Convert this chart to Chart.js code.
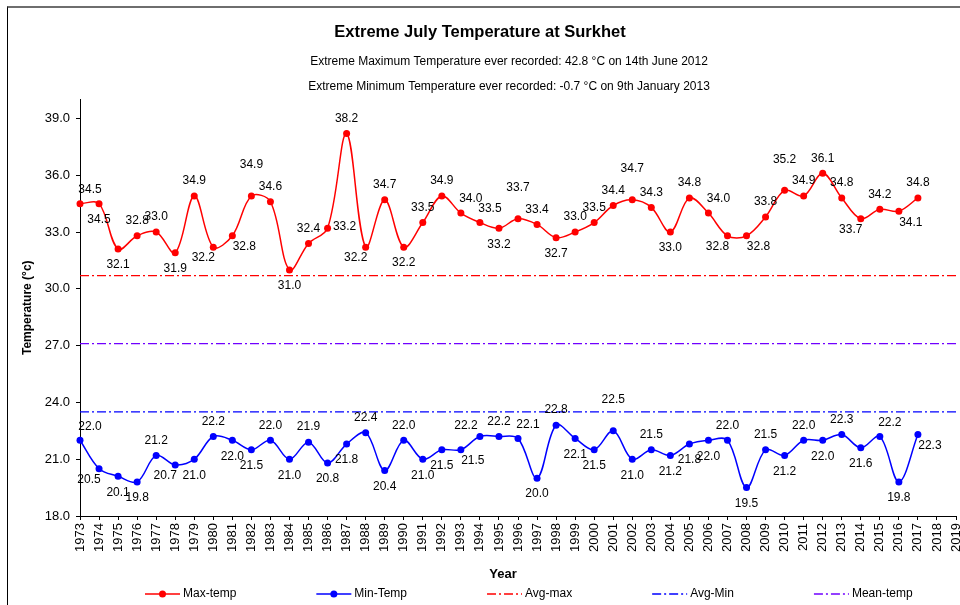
<!DOCTYPE html>
<html>
<head>
<meta charset="utf-8">
<title>Extreme July Temperature at Surkhet</title>
<script src="https://cdn.jsdelivr.net/npm/chart.js@4.4.1/dist/chart.umd.min.js"></script>
<style>
    html, body { margin: 0; padding: 0; background: #fff; }
    #wrap { position: relative; width: 960px; height: 605px; overflow: hidden; }
    #frame {
        position: absolute; left: 7px; top: 6px; right: -2px; bottom: -5px;
        border-left: 1px solid #000; border-top: 2px solid #6e6e6e;
        pointer-events: none;
    }
</style>
</head>
<body>
<div id="wrap">
    <canvas id="chart-temp" width="960" height="605"></canvas>
    <div id="frame"></div>
</div>
<script>
// Categories (x axis runs one step past the data, like the original)
const years = ['1973', '1974', '1975', '1976', '1977', '1978', '1979', '1980', '1981', '1982',
    '1983', '1984', '1985', '1986', '1987', '1988', '1989', '1990', '1991', '1992',
    '1993', '1994', '1995', '1996', '1997', '1998', '1999', '2000', '2001', '2002',
    '2003', '2004', '2005', '2006', '2007', '2008', '2009', '2010', '2011', '2012',
    '2013', '2014', '2015', '2016', '2017', '2018', '2019'];

// Extreme July maximum, 1973-2017
const maxTemp = [34.5, 34.5, 32.1, 32.8, 33.0, 31.9, 34.9, 32.2, 32.8, 34.9,
    34.6, 31.0, 32.4, 33.2, 38.2, 32.2, 34.7, 32.2, 33.5, 34.9,
    34.0, 33.5, 33.2, 33.7, 33.4, 32.7, 33.0, 33.5, 34.4, 34.7,
    34.3, 33.0, 34.8, 34.0, 32.8, 32.8, 33.8, 35.2, 34.9, 36.1,
    34.8, 33.7, 34.2, 34.1, 34.8];

// Extreme July minimum, 1973-2017
const minTemp = [22.0, 20.5, 20.1, 19.8, 21.2, 20.7, 21.0, 22.2, 22.0, 21.5,
    22.0, 21.0, 21.9, 20.8, 21.8, 22.4, 20.4, 22.0, 21.0, 21.5,
    21.5, 22.2, 22.2, 22.1, 20.0, 22.8, 22.1, 21.5, 22.5, 21.0,
    21.5, 21.2, 21.8, 22.0, 22.0, 19.5, 21.5, 21.2, 22.0, 22.0,
    22.3, 21.6, 22.2, 19.8, 22.3];

const avgMax = 30.7;
const avgMin = 23.5;
const meanTemp = 27.1;

const yTicks = [18, 21, 24, 27, 30, 33, 36, 39];

const subtitleLines = [
    'Extreme Maximum Temperature ever recorded: 42.8 °C on 14th June 2012',
    'Extreme Minimum Temperature ever recorded: -0.7 °C on 9th January 2013'
];

// where each value label sits relative to its point
const labelPosMax = 'ar b b a a b a bl br A a b a r a bl a b a a ar ar b A a b a a a A a b a ar bl br a A a a a bl a br a'.split(' ');
const labelPosMin = 'ar bl b b a bl b a b b a b a b b a b a b b br al a ar b a b b A b a b b b a b a b a b a b ar b br'.split(' ');
const labelOffsets = {
    a: [0, -15], A: [0, -31], b: [0, 16], r: [17, -2],
    ar: [10, -14], al: [-14, -11], br: [12, 11], bl: [-10, 11]
};

const FONT = "'Liberation Sans', Arial, sans-serif";
const DASH_DOT = [9, 3, 2, 3];

function refLine(value) {
    return [{ x: years[0], y: value }, { x: years[years.length - 1], y: value }];
}

// subtitle lines and the x axis title (both sit off the chart centre in the original)
const extraTexts = {
    id: 'extraTexts',
    afterDraw(chart) {
        const ctx = chart.ctx;
        ctx.save();
        ctx.fillStyle = '#000';
        ctx.textAlign = 'center';
        ctx.textBaseline = 'middle';
        ctx.font = '12px ' + FONT;
        subtitleLines.forEach((txt, i) => ctx.fillText(txt, chart.width / 2 + 29, 62 + i * 25));
        ctx.font = 'bold 13px ' + FONT;
        ctx.fillText('Year', 503, 574);
        ctx.restore();
    }
};

// value labels next to the points
const valueLabels = {
    id: 'valueLabels',
    afterDatasetsDraw(chart) {
        const ctx = chart.ctx;
        ctx.save();
        ctx.font = '12px ' + FONT;
        ctx.fillStyle = '#000';
        ctx.textAlign = 'center';
        ctx.textBaseline = 'middle';
        chart.data.datasets.forEach((ds, i) => {
            if (!ds.labelPos) return;
            chart.getDatasetMeta(i).data.forEach((pt, j) => {
                const off = labelOffsets[ds.labelPos[j]] || labelOffsets.a;
                ctx.fillText(ds.data[j].toFixed(1), pt.x + off[0], pt.y + off[1]);
            });
        });
        ctx.restore();
    }
};

// legend row along the bottom
const bottomLegend = {
    id: 'bottomLegend',
    afterDraw(chart) {
        const ctx = chart.ctx;
        const sample = 35, gapText = 3, gapItem = 80;
        const y = 594;
        ctx.save();
        ctx.font = '12px ' + FONT;
        ctx.textBaseline = 'middle';
        ctx.textAlign = 'left';
        let x = 145;
        chart.data.datasets.forEach(ds => {
            ctx.strokeStyle = ds.borderColor;
            ctx.lineWidth = ds.borderDash ? 1.3 : 1.5;
            ctx.setLineDash(ds.borderDash || []);
            ctx.beginPath();
            ctx.moveTo(x, y);
            ctx.lineTo(x + sample, y);
            ctx.stroke();
            ctx.setLineDash([]);
            if (ds.pointRadius) {
                ctx.fillStyle = ds.borderColor;
                ctx.beginPath();
                ctx.arc(x + sample / 2, y, 3.5, 0, Math.PI * 2);
                ctx.fill();
            }
            ctx.fillStyle = '#000';
            ctx.fillText(ds.label, x + sample + gapText, y);
            x += sample + gapText + ctx.measureText(ds.label).width + gapItem;
        });
        ctx.restore();
    }
};

Chart.defaults.font.family = FONT;
Chart.defaults.color = '#000';

new Chart(document.getElementById('chart-temp').getContext('2d'), {
    type: 'line',
    data: {
        labels: years,
        datasets: [
            {
                label: 'Max-temp',
                data: maxTemp,
                borderColor: '#ff0000',
                backgroundColor: '#ff0000',
                borderWidth: 1.5,
                pointRadius: 3.5,
                pointBorderWidth: 0,
                tension: 0.35,
                labelPos: labelPosMax
            },
            {
                label: 'Min-Temp',
                data: minTemp,
                borderColor: '#0000ff',
                backgroundColor: '#0000ff',
                borderWidth: 1.5,
                pointRadius: 3.5,
                pointBorderWidth: 0,
                tension: 0.35,
                labelPos: labelPosMin
            },
            {
                label: 'Avg-max',
                data: refLine(avgMax),
                borderColor: '#ff0000',
                borderWidth: 1.3,
                borderDash: DASH_DOT,
                pointRadius: 0
            },
            {
                label: 'Avg-Min',
                data: refLine(avgMin),
                borderColor: '#0000ff',
                borderWidth: 1.3,
                borderDash: DASH_DOT,
                pointRadius: 0
            },
            {
                label: 'Mean-temp',
                data: refLine(meanTemp),
                borderColor: '#7000ff',
                borderWidth: 1.3,
                borderDash: DASH_DOT,
                pointRadius: 0
            }
        ]
    },
    options: {
        responsive: false,
        animation: false,
        events: [],
        layout: { padding: { left: 0, right: 0, top: 0, bottom: 22 } },
        plugins: {
            legend: { display: false },
            tooltip: { enabled: false },
            title: {
                display: true,
                text: 'Extreme July Temperature at Surkhet',
                font: { size: 16.5, weight: 'bold' },
                padding: { top: 23, bottom: 56.7 }
            }
        },
        scales: {
            x: {
                type: 'category',
                offset: false,
                grid: { drawOnChartArea: false, tickLength: 4, color: '#000' },
                border: { color: '#000' },
                ticks: { autoSkip: false, minRotation: 90, maxRotation: 90, font: { size: 13 }, padding: 3 },
                afterFit(scale) {
                    scale.height = 67;
                    scale.paddingRight = 3;
                }
            },
            y: {
                min: 18,
                max: 40,
                grid: { drawOnChartArea: false, tickLength: 4, color: '#000' },
                border: { color: '#000' },
                ticks: {
                    font: { size: 13 },
                    padding: 6,
                    callback: v => Number(v).toFixed(1)
                },
                afterBuildTicks(scale) {
                    scale.ticks = yTicks.map(v => ({ value: v }));
                },
                title: {
                    display: true,
                    text: 'Temperature (°c)',
                    font: { size: 12, weight: 'bold' },
                    padding: { top: 20, bottom: 0 }
                },
                afterFit(scale) { scale.width = 80; }
            }
        }
    },
    plugins: [extraTexts, valueLabels, bottomLegend]
});
</script>
</body>
</html>
